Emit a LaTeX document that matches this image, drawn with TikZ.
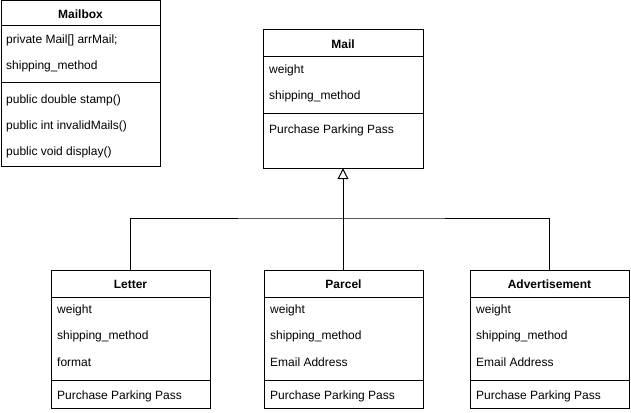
\documentclass[tikz,border=0pt]{standalone}
\usepackage{fontspec}
\setmainfont{Liberation Sans}
\usetikzlibrary{arrows.meta}
\tikzset{
  box/.style={draw=black, line width=1pt, fill=white, inner sep=0pt},
  row/.style={anchor=west, inner sep=0pt, font=\fontsize{12}{14}\selectfont},
  ttl/.style={inner sep=0pt, font=\fontsize{12}{14}\selectfont\bfseries},
  sep/.style={draw=black, line width=1pt},
  conn/.style={draw=black, line width=1pt},
}
\newcommand{\umlbox}[6]{% name, left, top, right, bottom, header y
  \path[box] (#2,#3) rectangle (#4,#5);
  \node[minimum width=#4pt-#2pt, minimum height=#5pt-#3pt, inner sep=0pt] (#1) at ({(#2+#4)/2},{(#3+#5)/2}) {};
  \draw[sep] (#2,#6) -- (#4,#6);
}
\begin{document}
\begin{tikzpicture}[x=1pt,y=-1pt]
\useasboundingbox (0,0) rectangle (631,412);
% Mailbox
\umlbox{mailbox}{1}{1}{160}{166}{26}
\draw[sep] (1,82) -- (160,82);
\node[ttl] (mailboxT) at (80.5,14) {Mailbox};
\node[row] (mb1) at (6,40) {private Mail[] arrMail;};
\node[row] (mb2) at (6,66) {shipping\_method};
\node[row] (mb3) at (6,100) {public double stamp()};
\node[row] (mb4) at (6,126) {public int invalidMails()};
\node[row] (mb5) at (6,152) {public void display()};
% Mail
\umlbox{mail}{263}{30}{423}{168}{57}
\draw[sep] (263,113) -- (423,113);
\node[ttl] (mailT) at (343,44) {Mail};
\node[row] (m1) at (269,70) {weight};
\node[row] (m2) at (269,96) {shipping\_method};
\node[row] (m3) at (269,130) {Purchase Parking Pass};
% Letter
\umlbox{letter}{51}{270}{210}{408}{297}
\draw[sep] (51,380) -- (210,380);
\node[ttl] (letterT) at (130.5,284) {Letter};
\node[row] (l1) at (57,310) {weight};
\node[row] (l2) at (57,336) {shipping\_method};
\node[row] (l3) at (57,362) {format};
\node[row] (l4) at (57,396) {Purchase Parking Pass};
% Parcel
\umlbox{parcel}{264}{270}{423}{408}{297}
\draw[sep] (264,380) -- (423,380);
\node[ttl] (parcelT) at (343.5,284) {Parcel};
\node[row] (p1) at (270,310) {weight};
\node[row] (p2) at (270,336) {shipping\_method};
\node[row] (p3) at (270,362) {Email Address};
\node[row] (p4) at (270,396) {Purchase Parking Pass};
% Advertisement
\umlbox{adv}{470}{270}{629}{408}{297}
\draw[sep] (470,380) -- (629,380);
\node[ttl] (advT) at (549.5,284) {Advertisement};
\node[row] (a1) at (476,310) {weight};
\node[row] (a2) at (476,336) {shipping\_method};
\node[row] (a3) at (476,362) {Email Address};
\node[row] (a4) at (476,396) {Purchase Parking Pass};
% connectors
\coordinate (junc) at (343,218);
\draw[conn] (letter.north) |- (junc) -| (adv.north);
\draw[conn, -{Triangle[open, length=11pt, width=11pt]}] (parcel.north -| junc) -- (mail.south -| junc);
\end{tikzpicture}
\end{document}
